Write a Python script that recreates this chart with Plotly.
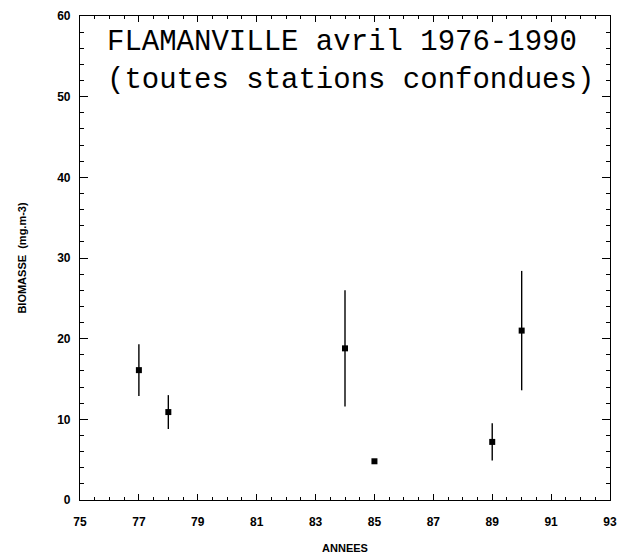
import plotly.graph_objects as go

years = [77, 78, 84, 85, 89, 90]
biomass = [16.1, 10.9, 18.8, 4.8, 7.2, 21.0]
err = [3.2, 2.1, 7.2, 0.0, 2.3, 7.4]

x_ticks = [75, 77, 79, 81, 83, 85, 87, 89, 91, 93]
y_ticks = [0, 10, 20, 30, 40, 50, 60]

title_line1 = "FLAMANVILLE avril 1976-1990"
title_line2 = "(toutes stations confondues)"

fig = go.Figure()
fig.add_trace(go.Scatter(
    x=years, y=biomass, mode="markers",
    marker=dict(symbol="square", size=6, color="black"),
    error_y=dict(type="data", array=err, visible=True, color="black",
                 thickness=1.4, width=0),
    showlegend=False,
))

lblfont = dict(family="Liberation Sans, Arial", size=12, color="black", weight="bold")
axis_common = dict(
    showgrid=False, zeroline=False, showline=True, linecolor="black",
    linewidth=1.2, mirror="ticks", ticks="inside", tickcolor="black",
    tickfont=lblfont, automargin=False,
)

fig.update_xaxes(
    range=[75, 93], tickvals=x_ticks, ticklen=6, tickwidth=1.2,
    minor=dict(dtick=0.5, tick0=75, ticks="inside", ticklen=3, tickcolor="black", tickwidth=1),
    ticklabelstandoff=10,
    title=dict(text="<b>ANNEES</b>", font=dict(family="Liberation Sans, Arial", size=11, color="black"), standoff=16),
    **axis_common,
)
fig.update_yaxes(
    range=[0, 60], tickvals=y_ticks, ticklen=8, tickwidth=1.2,
    minor=dict(dtick=2, tick0=0, ticks="inside", ticklen=4, tickcolor="black", tickwidth=1),
    ticklabelstandoff=6,
    title=dict(text="<b>BIOMASSE  (mg.m-3)</b>", font=dict(family="Liberation Sans, Arial", size=11, color="black"), standoff=28),
    **axis_common,
)

tfont = dict(family="Liberation Mono, DejaVu Sans Mono", size=29, color="black")
fig.add_annotation(xref="paper", yref="paper", x=0.048, y=0.905, xanchor="left", yanchor="middle",
                   align="left", text=title_line1 + "<br>" + title_line2,
                   showarrow=False, font=tfont)

fig.update_layout(
    width=630, height=556,
    margin=dict(l=80, r=20, t=16, b=56),
    paper_bgcolor="white", plot_bgcolor="white",
)

fig.write_html("out.html")
